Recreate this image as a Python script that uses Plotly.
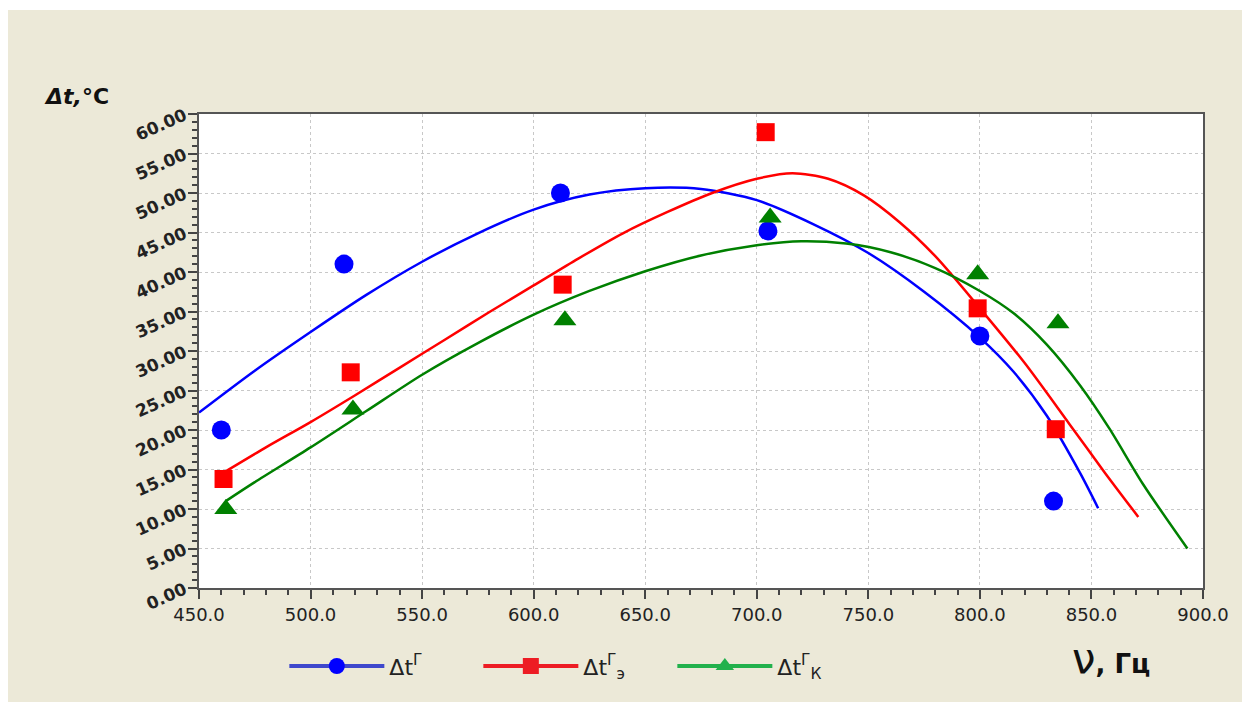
import plotly.graph_objects as go

# ---------------- data ----------------
blue_x = [460, 515, 612, 705, 800, 833]
blue_y = [20.0, 41.0, 50.0, 45.2, 31.9, 11.0]
red_x = [461, 518, 613, 704, 799, 834]
red_y = [13.8, 27.3, 38.4, 57.7, 35.4, 20.1]
green_x = [462, 519, 614, 706, 799, 835]
green_y = [10.0, 22.6, 33.9, 46.9, 39.7, 33.5]

# trend curves
blue_cx = [450, 475, 500, 525, 550, 575, 600, 625, 650, 675, 700, 725, 750, 775, 800, 815, 830, 845, 853]
blue_cy = [22.2, 27.5, 32.4, 37.1, 41.3, 44.9, 47.9, 49.8, 50.6, 50.5, 49.1, 46.1, 42.4, 37.5, 31.7, 27.4, 21.8, 14.5, 10.1]
red_cx = [461, 480, 500, 520, 540, 560, 580, 600, 620, 640, 660, 680, 700, 716, 732, 748, 764, 780, 800, 820, 840, 856, 871]
red_cy = [14.6, 17.8, 21.0, 24.4, 27.9, 31.4, 34.9, 38.3, 41.7, 44.9, 47.6, 50.0, 51.8, 52.5, 51.8, 49.7, 46.3, 42.0, 35.4, 28.5, 20.8, 14.6, 9.0]
green_cx = [462, 475, 500, 525, 550, 575, 600, 625, 650, 675, 700, 720, 740, 760, 780, 800, 815, 830, 845, 858, 873, 893]
green_cy = [11.0, 13.4, 17.8, 22.4, 27.0, 31.0, 34.6, 37.6, 40.1, 42.1, 43.4, 43.9, 43.6, 42.5, 40.5, 37.6, 34.8, 30.8, 25.6, 20.2, 13.2, 5.0]

legend_names = ["Δt<sup>Г</sup>", "Δt<sup>Г</sup><sub>э</sub>", "Δt<sup>Г</sup><sub>К</sub>"]

x_range = [450, 900]
y_range = [0, 60]

# ---------------- figure ----------------
BLUE, RED, GREEN = "#0000FF", "#FF0000", "#008000"
fig = go.Figure()

for cx, cy, col in [(blue_cx, blue_cy, BLUE), (red_cx, red_cy, RED), (green_cx, green_cy, GREEN)]:
    fig.add_trace(go.Scatter(x=cx, y=cy, mode="lines",
                             line=dict(color=col, width=2.5, shape="spline", smoothing=0.8),
                             showlegend=False, hoverinfo="skip"))

fig.add_trace(go.Scatter(x=blue_x, y=blue_y, mode="markers", showlegend=False,
                         marker=dict(symbol="circle", size=19, color=BLUE)))
fig.add_trace(go.Scatter(x=red_x, y=red_y, mode="markers", showlegend=False,
                         marker=dict(symbol="square", size=18, color=RED)))
fig.add_trace(go.Scatter(x=green_x, y=green_y, mode="markers", showlegend=False,
                         marker=dict(symbol="triangle-up", size=20, color=GREEN)))

# legend entries
leg_styles = [("#3F48CC", "#0000FF", "circle"), ("#ED1C24", "#ED1C24", "square"), ("#22B14C", "#22B14C", "triangle-up")]
for name, (lc, mc, sym) in zip(legend_names, leg_styles):
    fig.add_trace(go.Scatter(x=[None], y=[None], mode="lines+markers", name=name,
                             line=dict(color=lc, width=4),
                             marker=dict(symbol=sym, size=18, color=mc)))

tick_font_x = dict(family="DejaVu Sans", size=18, color="#222222")
tick_font_y = dict(family="DejaVu Sans", size=17, color="#222222", weight="bold")

fig.update_xaxes(range=x_range, dtick=50, tick0=450, tickformat=".1f",
                 showgrid=True, gridcolor="#C8C8C8", griddash="dot", gridwidth=1,
                 ticks="outside", ticklen=9, tickwidth=2, tickcolor="#444444",
                 minor=dict(dtick=10, ticks="outside", ticklen=5, tickwidth=2, tickcolor="#444444", showgrid=False),
                 showline=True, linecolor="#555555", linewidth=2, mirror=True,
                 tickfont=tick_font_x, zeroline=False, fixedrange=True)
fig.update_yaxes(range=y_range, dtick=5, tick0=0, tickformat=".2f", tickangle=-24,
                 showgrid=True, gridcolor="#C8C8C8", griddash="dot", gridwidth=1,
                 ticks="outside", ticklen=9, tickwidth=2, tickcolor="#444444",
                 minor=dict(dtick=1, ticks="outside", ticklen=5, tickwidth=2, tickcolor="#444444", showgrid=False),
                 showline=True, linecolor="#555555", linewidth=2, mirror=True,
                 tickfont=tick_font_y, zeroline=False, fixedrange=True)

# plot area: 199..1203 px horizontally, 114..588 px vertically (figure at page origin)
fig.update_layout(
    width=1242, height=702,
    margin=dict(l=199, r=39, t=114, b=114, pad=0),
    paper_bgcolor="#ECE9D8",
    plot_bgcolor="#FFFFFF",
    showlegend=True,
    legend=dict(orientation="h", x=0.085, y=-0.165, xanchor="left", yanchor="middle",
                font=dict(family="DejaVu Sans", size=22, color="#222222"),
                bgcolor="rgba(0,0,0,0)", itemwidth=95, entrywidth=84, tracegroupgap=0),
    shapes=[
        dict(type="rect", xref="paper", yref="paper", x0=-0.3, x1=1.2, y0=(588 - 10) / 474, y1=1.3,
             fillcolor="#FFFFFF", line=dict(width=0), layer="above"),
        dict(type="rect", xref="paper", yref="paper", x0=-0.3, x1=(8 - 199) / 1004, y0=-0.3, y1=1.3,
             fillcolor="#FFFFFF", line=dict(width=0), layer="above"),
    ],
    annotations=[
        dict(text="<b><i>Δt,</i></b><b>°C</b>", xref="paper", yref="paper",
             x=(76 - 199) / 1004, y=(588 - 96) / 474, xanchor="center", yanchor="middle",
             showarrow=False, font=dict(family="DejaVu Sans", size=22, color="#111111")),
        dict(text="<span style='font-size:42px'>ν</span><b>, Гц</b>", xref="paper", yref="paper",
             x=(1111 - 199) / 1004, y=(588 - 658) / 474, xanchor="center", yanchor="middle",
             showarrow=False, font=dict(family="DejaVu Sans", size=26, color="#111111")),
    ],
)

fig.write_html("out.html", default_width="1242px", default_height="702px",
               config={"displayModeBar": False},
               post_script="document.body.style.margin='0';document.documentElement.style.overflow='hidden';document.body.style.overflow='hidden';")
